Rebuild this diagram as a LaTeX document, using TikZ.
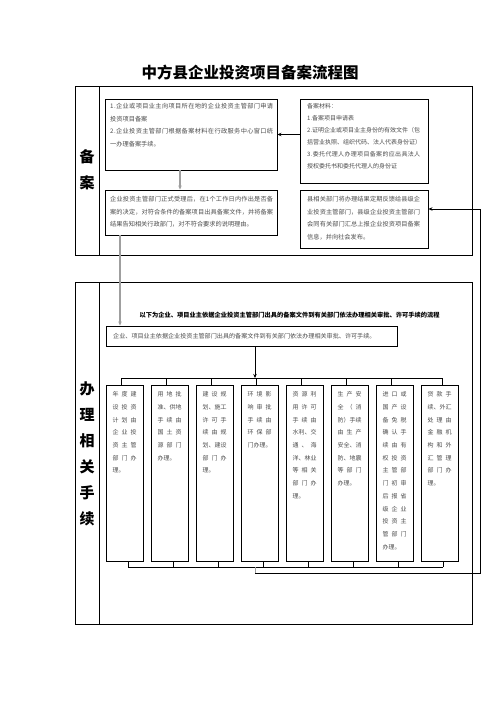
\documentclass[tikz,border=0pt]{standalone}
\usepackage{fontspec}
\setmainfont{Noto Sans CJK SC}
\usetikzlibrary{arrows.meta}
\ExplSyntaxOn
\NewDocumentCommand\spreadline{mm}{
  \makebox[#1][s]{
    \bool_set_true:N \l_tmpa_bool
    \tl_map_inline:nn {#2}
      { \bool_if:NF \l_tmpa_bool { \hfil } \bool_set_false:N \l_tmpa_bool ##1 }
  }
}
\ExplSyntaxOff
\definecolor{bodytxt}{gray}{0.3}
\newcommand\fw[1]{\spreadline{24pt}{#1}}
\begin{document}
\begin{tikzpicture}[x=1pt,y=-1pt,
  frame/.style={draw, line width=0.9pt, inner sep=0pt},
  boxn/.style={draw, line width=0.9pt, inner sep=0pt},
  colbox/.style={draw, line width=0.9pt, inner sep=0pt, minimum width=37pt, minimum height=176pt},
  coltxt/.style={anchor=north, inner sep=0pt, align=left, text=bodytxt,
    font=\fontsize{6}{12.7}\selectfont},
  txtA/.style={anchor=north west, inner sep=0pt, align=left, text=bodytxt,
    font=\fontsize{6.2}{12.5}\selectfont},
  txtB/.style={anchor=north west, inner sep=0pt, align=left, text=bodytxt,
    font=\fontsize{6}{12}\selectfont},
  lbl/.style={inner sep=0pt, align=center, font=\bfseries\fontsize{15}{26}\selectfont},
  arr/.style={line width=0.8pt, -{Stealth[length=4pt,width=3.5pt]}},
  garr/.style={line width=1.2pt, draw=gray!75, -{Stealth[length=4pt,width=3.5pt]}},
  conn/.style={line width=0.8pt}
]
\useasboundingbox (0,0) rectangle (496,702);
\fill[white] (0,0) rectangle (496,702);

% title
\node[inner sep=0pt, font=\bfseries\fontsize{15.5}{18}\selectfont] (title) at (250,73) {中方县企业投资项目备案流程图};

% section 1
\node[frame, minimum width=397pt, minimum height=169pt] (S1) at (273.5,170.5) {};
\draw[conn] (99,86) -- (99,255);
\node[lbl] (L1) at (87,170) {备\\案};

% box A
\node[boxn, minimum width=172pt, minimum height=71pt] (A) at (191,134.5) {};
\node[txtA] (At) at (110,103.5) {\spreadline{163pt}{1.企业或项目业主向项目所在地的企业投资主管部门申请}\\投资项目备案\\\spreadline{163pt}{2.企业投资主管部门根据备案材料在行政服务中心窗口统}\\一办理备案手续。};

% box B
\node[boxn, minimum width=128pt, minimum height=84pt] (B) at (364,141) {};
\node[txtB] (Bt) at (307,103.5) {备案材料：\\1.备案项目申请表\\\spreadline{113pt}{2.证明企业或项目业主身份的有效文件（包}\\\spreadline{113pt}{括营业执照、组织代码、法人代表身份证）}\\\spreadline{113pt}{3.委托代理人办理项目备案的应出具法人}\\授权委托书和委托代理人的身份证};

% box C
\node[boxn, minimum width=172pt, minimum height=45pt] (C) at (191,212.5) {};
\node[txtA] (Ct) at (110,196.5) {\spreadline{163pt}{企业投资主管部门正式受理后，在 1 个工作日内作出是否备}\\\spreadline{163pt}{案的决定，对符合条件的备案项目出具备案文件，并将备案}\\结果告知相关行政部门，对不符合要求的说明理由。};

% box E
\node[boxn, minimum width=128pt, minimum height=58pt] (E) at (364,219) {};
\node[txtA] (Et) at (307,196.5) {\spreadline{113pt}{县相关部门将办理结果定期反馈给县级企}\\\spreadline{113pt}{业投资主管部门，县级企业投资主管部门}\\\spreadline{113pt}{会同有关部门汇总上报企业投资项目备案}\\信息，并向社会发布。};

% section 2
\node[frame, minimum width=397pt, minimum height=342pt] (S2) at (273.5,453) {};
\draw[conn] (99,282) -- (99,624);
\node[lbl] (L2) at (87,454) {办\\理\\相\\关\\手\\续};

\node[inner sep=0pt, font=\bfseries\fontsize{6.25}{8}\selectfont] (head) at (289.5,315) {以下为企业、项目业主依据企业投资主管部门出具的备案文件到有关部门依法办理相关审批、许可手续的流程};

% box D
\node[boxn, minimum width=291pt, minimum height=20pt] (D) at (251.5,336) {};
\node[inner sep=0pt, anchor=west, text=bodytxt, font=\fontsize{6.1}{8}\selectfont] (Dt) at (113,336) {企业、项目业主依据企业投资主管部门出具的备案文件到有关部门依法办理相关审批、许可手续。};

% column boxes
\node[colbox] (c1) at (124.5,473) {};
\node[colbox] (c2) at (169.5,473) {};
\node[colbox] (c3) at (214.5,473) {};
\node[colbox] (c4) at (259.5,473) {};
\node[colbox] (c5) at (304.5,473) {};
\node[colbox] (c6) at (349.5,473) {};
\node[colbox] (c7) at (394.5,473) {};
\node[colbox] (c8) at (439.5,473) {};

\node[coltxt] (c1t) at (124.5,391.5) {\fw{年度建}\\\fw{设投资}\\\fw{计划由}\\\fw{企业投}\\\fw{资主管}\\\fw{部门办}\\理。};
\node[coltxt] (c2t) at (169.5,391.5) {\fw{用地批}\\\fw{准、供地}\\\fw{手续由}\\\fw{国土资}\\\fw{源部门}\\办理。};
\node[coltxt] (c3t) at (214.5,391.5) {\fw{建设规}\\\fw{划、施工}\\\fw{许可手}\\\fw{续由规}\\\fw{划、建设}\\\fw{部门办}\\理。};
\node[coltxt] (c4t) at (259.5,391.5) {\fw{环境影}\\\fw{响审批}\\\fw{手续由}\\\fw{环保部}\\门办理。};
\node[coltxt] (c5t) at (304.5,391.5) {\fw{资源利}\\\fw{用许可}\\\fw{手续由}\\\fw{水利、交}\\\fw{通、海}\\\fw{洋、林业}\\\fw{等相关}\\\fw{部门办}\\理。};
\node[coltxt] (c6t) at (349.5,391.5) {\fw{生产安}\\\fw{全（消}\\\fw{防）手续}\\\fw{由生产}\\\fw{安全、消}\\\fw{防、地震}\\\fw{等部门}\\办理。};
\node[coltxt] (c7t) at (394.5,391.5) {\fw{进口或}\\\fw{国产设}\\\fw{备免税}\\\fw{确认手}\\\fw{续由有}\\\fw{权投资}\\\fw{主管部}\\\fw{门初审}\\\fw{后报省}\\\fw{级企业}\\\fw{投资主}\\\fw{管部门}\\办理。};
\node[coltxt] (c8t) at (439.5,391.5) {\fw{贷款手}\\\fw{续、外汇}\\\fw{处理由}\\\fw{金融机}\\\fw{构和外}\\\fw{汇管理}\\\fw{部门办}\\理。};

% connectors section 1
\draw[arr] (B.west |- A.east) -- (A.east);
\coordinate (ac) at (180,0);
\draw[garr] (ac |- A.south) -- (ac |- C.north);
\coordinate (cd) at (120,0);
\draw[garr] (cd |- C.south) -- (cd |- D.north);

% top bus
\coordinate (t1) at (121,378);
\coordinate (t2) at (166,378);
\coordinate (t3) at (211,378);
\coordinate (t4) at (256,378);
\coordinate (t5) at (301,378);
\coordinate (t6) at (346,378);
\coordinate (t7) at (391,378);
\coordinate (t8) at (442,378);
\draw[conn] (t1) -- (t8);
\foreach \i in {1,...,8} { \draw[conn] (t\i) -- (t\i |- c\i.north); }
\coordinate (dtop) at (255,378);
\draw[arr] (dtop |- D.south) -- (dtop);

% bottom bus
\coordinate (b1) at (128,567);
\coordinate (b2) at (173,567);
\coordinate (b3) at (218,567);
\coordinate (b4) at (263,567);
\coordinate (b5) at (308,567);
\coordinate (b6) at (353,567);
\coordinate (b7) at (398,567);
\coordinate (b8) at (443,567);
\draw[conn] (b1) -- (b8);
\foreach \i in {1,...,8} { \draw[conn] (b\i) -- (b\i |- c\i.south); }

% return line to E
\coordinate (r0) at (255,567);
\coordinate (r1) at (255,573);
\coordinate (r2) at (480,573);
\coordinate (r3) at (480,209);
\draw[line width=1pt, gray!75] (r0) -- (r1);
\draw[conn] (r1) -- (r2) -- (r3);
\draw[arr] (r3) -- (r3 -| E.east);
\end{tikzpicture}
\end{document}
